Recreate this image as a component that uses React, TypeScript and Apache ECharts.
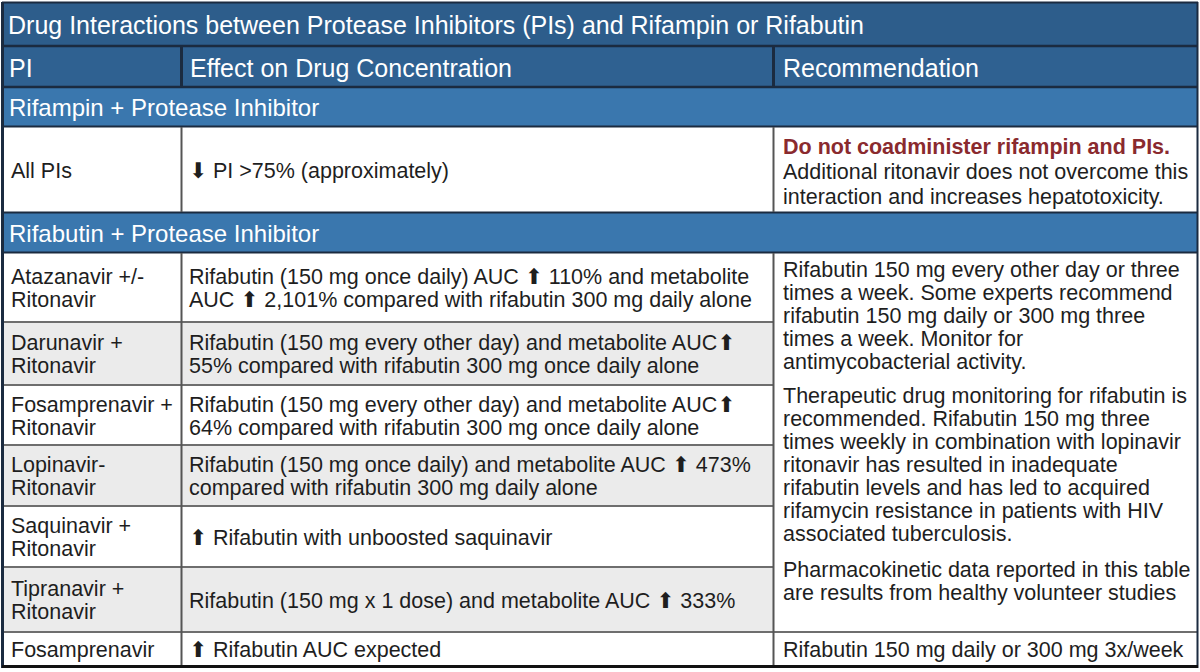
import React, { useEffect, useRef } from "react";
import * as echarts from "echarts";

const titleText = "Drug Interactions between Protease Inhibitors (PIs) and Rifampin or Rifabutin";
const headers = ["PI", "Effect on Drug Concentration", "Recommendation"];
const sections = ["Rifampin + Protease Inhibitor", "Rifabutin + Protease Inhibitor"];
const piNames = [
  "All PIs",
  "Atazanavir +/-\nRitonavir",
  "Darunavir +\nRitonavir",
  "Fosamprenavir +\nRitonavir",
  "Lopinavir-\nRitonavir",
  "Saquinavir +\nRitonavir",
  "Tipranavir +\nRitonavir",
  "Fosamprenavir",
];
const effects = [
  "⬇ PI >75% (approximately)",
  "Rifabutin (150 mg once daily) AUC ⬆ 110% and metabolite\nAUC ⬆ 2,101% compared with rifabutin 300 mg daily alone",
  "Rifabutin (150 mg every other day) and metabolite AUC⬆\n55% compared with rifabutin 300 mg once daily alone",
  "Rifabutin (150 mg every other day) and metabolite AUC⬆\n64% compared with rifabutin 300 mg once daily alone",
  "Rifabutin (150 mg once daily) and metabolite AUC ⬆ 473%\ncompared with rifabutin 300 mg daily alone",
  "⬆ Rifabutin with unboosted saquinavir",
  "Rifabutin (150 mg x 1 dose) and metabolite AUC ⬆ 333%",
  "⬆ Rifabutin AUC expected",
];
const rifampinWarning = "Do not coadminister rifampin and PIs.";
const rifampinNote = "Additional ritonavir does not overcome this\ninteraction and increases hepatotoxicity.";
const rifabutinParagraphs = [
  "Rifabutin 150 mg every other day or three\ntimes a week. Some experts recommend\nrifabutin 150 mg daily or 300 mg three\ntimes a week. Monitor for\nantimycobacterial activity.",
  "Therapeutic drug monitoring for rifabutin is\nrecommended. Rifabutin 150 mg three\ntimes weekly in combination with lopinavir\nritonavir has resulted in inadequate\nrifabutin levels and has led to acquired\nrifamycin resistance in patients with HIV\nassociated tuberculosis.",
  "Pharmacokinetic data reported in this table\nare results from healthy volunteer studies",
];
const fosamprenavirRec = "Rifabutin 150 mg daily or 300 mg 3x/week";

// layout (pixels)
const X0 = 2, X1 = 181, X2 = 773, X3 = 1198;
const TITLE = [2, 46];
const HEADER = [46, 87];
const SECTION_Y = [[87, 126], [213, 252]];
const ROW_Y = [[127, 212], [253, 322], [322, 385], [385, 445], [445, 506], [506, 567], [567, 632], [632, 665]];
const PARA_Y = [270, 396, 570];

const FONT = "'Liberation Sans', Arial, 'DejaVu Sans', sans-serif";
const BODY = 21.5;
const C_TITLE = "#2d5d8b";
const C_HEADER = "#2f6191";
const C_SECTION = "#3a77ae";
const C_DARK = "#1b2b40";
const C_GRID = "#6e6e6e";
const C_GRAY = "#ebebeb";
const C_TEXT = "#1e1e1e";
const C_RED = "#8a2a2e";

function hline(y: number, x1: number, x2: number, color: string, w: number) {
  return { type: "line", shape: { x1, y1: y, x2, y2: y }, style: { stroke: color, lineWidth: w }, z: 10 };
}
function vline(x: number, y1: number, y2: number, color: string, w: number) {
  return { type: "line", shape: { x1: x, y1, x2: x, y2 }, style: { stroke: color, lineWidth: w }, z: 10 };
}
function rect(x: number, y: number, w: number, h: number, fill: string) {
  return { type: "rect", shape: { x, y, width: w, height: h }, style: { fill }, z: 1 };
}
function txt(text: string, x: number, y: number, opts: any = {}) {
  return {
    type: "text",
    z: 20,
    style: {
      text,
      x,
      y,
      fill: opts.fill || C_TEXT,
      fontSize: opts.fontSize || BODY,
      fontWeight: opts.fontWeight || "normal",
      fontFamily: FONT,
      lineHeight: opts.lineHeight || 23,
      verticalAlign: opts.verticalAlign || "middle",
      align: "left",
    },
  };
}

export default function App() {
  const ref = useRef<HTMLDivElement>(null);
  useEffect(() => {
    document.body.style.margin = "0";
    const chart = echarts.init(ref.current!, null, { renderer: "svg" });
    const g: any[] = [];
    g.push(rect(0, 0, 1200, 672, "#ffffff"));
    // title
    g.push(rect(X0, TITLE[0], X3 - X0, TITLE[1] - TITLE[0], C_TITLE));
    g.push(txt(titleText, 8, (TITLE[0] + TITLE[1]) / 2 + 1, { fill: "#ffffff", fontSize: 25 }));
    // header
    g.push(rect(X0, HEADER[0], X3 - X0, HEADER[1] - HEADER[0], C_HEADER));
    const hx = [9, 190, 783];
    headers.forEach((h, i) => g.push(txt(h, hx[i], (HEADER[0] + HEADER[1]) / 2 + 1, { fill: "#ffffff", fontSize: 25 })));
    // sections
    SECTION_Y.forEach(([a, b], i) => {
      g.push(rect(X0, a, X3 - X0, b - a, C_SECTION));
      g.push(txt(sections[i], 9, (a + b) / 2 + 1, { fill: "#ffffff", fontSize: 24 }));
    });
    // body rows
    ROW_Y.forEach(([a, b], i) => {
      const fill = i >= 1 && i % 2 === 0 ? C_GRAY : "#ffffff";
      g.push(rect(X0, a, X2 - X0, b - a, fill));
      const cy = (a + b) / 2 + 1;
      g.push(txt(piNames[i], 11, cy));
      g.push(txt(effects[i], 189, cy));
    });
    // recommendation column
    g.push(rect(X2, ROW_Y[0][0], X3 - X2, ROW_Y[0][1] - ROW_Y[0][0], "#ffffff"));
    g.push(rect(X2, ROW_Y[1][0], X3 - X2, ROW_Y[7][1] - ROW_Y[1][0], "#ffffff"));
    g.push(txt(rifampinWarning, 783, 147, { fill: C_RED, fontWeight: "bold" }));
    g.push(txt(rifampinNote, 783, 159, { verticalAlign: "top", lineHeight: 25 }));
    rifabutinParagraphs.forEach((p, i) => g.push(txt(p, 783, PARA_Y[i] - 11.5, { verticalAlign: "top" })));
    g.push(txt(fosamprenavirRec, 783, (ROW_Y[7][0] + ROW_Y[7][1]) / 2 + 1));

    // grid lines
    g.push(hline(TITLE[1], X0, X3, C_DARK, 2.5));
    g.push(hline(HEADER[1], X0, X3, C_DARK, 2.5));
    g.push(hline(SECTION_Y[0][1] + 0.5, X0, X3, C_DARK, 2));
    g.push(hline(ROW_Y[0][1] + 0.5, X0, X3, C_DARK, 2));
    g.push(hline(SECTION_Y[1][1] + 0.5, X0, X3, C_DARK, 2));
    for (let i = 2; i < ROW_Y.length; i++) {
      const y = ROW_Y[i][0];
      g.push(hline(y, X0, i === 7 ? X3 : X2, C_GRID, 2));
    }
    // vertical separators
    [X1, X2].forEach((x) => {
      g.push(vline(x + 0.5, HEADER[0], HEADER[1], C_DARK, 3));
      g.push(vline(x + 0.5, ROW_Y[0][0], ROW_Y[0][1], "#555555", 2));
      g.push(vline(x + 0.5, ROW_Y[1][0], ROW_Y[7][1], "#555555", 2));
    });
    // outer border
    g.push(vline(X0 + 0.5, TITLE[0], 668, C_DARK, 3));
    g.push(vline(X3 - 0.5, TITLE[0], 668, C_DARK, 2));
    g.push(hline(TITLE[0] + 0.5, X0, X3, C_DARK, 2));
    g.push(hline(666.5, X0, X3, "#111111", 3));

    chart.setOption({ animation: false, graphic: { elements: g } });
    return () => chart.dispose();
  }, []);
  return <div ref={ref} style={{ width: 1200, height: 672 }} />;
}
